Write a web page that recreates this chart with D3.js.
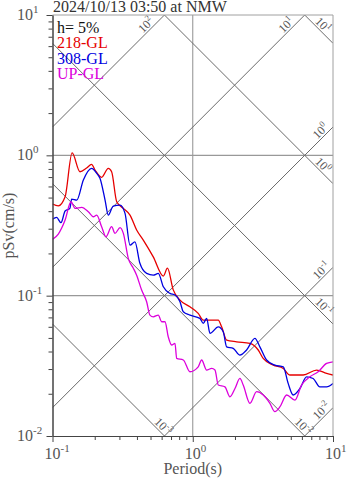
<!DOCTYPE html>
<html>
<head>
<meta charset="utf-8">
<script src="https://cdn.jsdelivr.net/npm/d3@7"></script>
<style>
	body { margin: 0; background: #fff; }
	svg { display: block; font-family: "Liberation Serif", "DejaVu Serif", serif; }
</style>
</head>
<body>
<script>
const title = "2024/10/13 03:50 at NMW";
const damping = "h= 5%";
const seriesNames = ["218-GL", "308-GL", "UP-GL"];
const seriesColors = ["#e60000", "#0000e0", "#dc00dc"];

// period (s) and pSv (cm/s) for each component
const period218 = [0.1, 0.11, 0.123, 0.138, 0.157, 0.175, 0.19, 0.201, 0.224, 0.25, 0.264, 0.287, 0.32, 0.357, 0.398, 0.444, 0.523, 0.617, 0.66, 0.726, 0.811, 0.955, 1.094, 1.188, 1.29, 1.52, 1.607, 1.744, 2.056, 2.557, 2.93, 3.18, 3.75, 4.42, 4.93, 6.13, 7.64, 9.0, 10];
const sv218 = [0.45, 0.437, 0.507, 1.04, 0.764, 0.812, 0.863, 0.786, 0.697, 0.808, 0.764, 0.467, 0.419, 0.375, 0.294, 0.249, 0.189, 0.138, 0.157, 0.11, 0.093, 0.0834, 0.0748, 0.067, 0.067, 0.067, 0.06, 0.0483, 0.0469, 0.0457, 0.041, 0.0357, 0.032, 0.0303, 0.0272, 0.0272, 0.0295, 0.0279, 0.0272];

const period308 = [0.1, 0.107, 0.115, 0.123, 0.133, 0.137, 0.149, 0.166, 0.19, 0.207, 0.218, 0.237, 0.25, 0.271, 0.303, 0.329, 0.357, 0.387, 0.42, 0.469, 0.523, 0.568, 0.617, 0.688, 0.747, 0.811, 0.856, 0.955, 1.125, 1.188, 1.256, 1.327, 1.52, 1.65, 1.744, 1.944, 2.17, 2.42, 2.775, 3.01, 3.36, 3.85, 4.42, 4.79, 5.2, 5.81, 6.48, 7.22, 8.06, 9.0, 10];
const sv308 = [0.35, 0.361, 0.331, 0.401, 0.419, 0.488, 0.48, 0.667, 0.808, 0.744, 0.686, 0.48, 0.375, 0.435, 0.442, 0.386, 0.229, 0.242, 0.17, 0.144, 0.14, 0.144, 0.1157, 0.1038, 0.101, 0.0905, 0.0768, 0.0727, 0.0689, 0.0635, 0.0689, 0.0539, 0.06, 0.0553, 0.0432, 0.0421, 0.0377, 0.041, 0.0496, 0.0432, 0.0348, 0.032, 0.0311, 0.0237, 0.0196, 0.0218, 0.0264, 0.0257, 0.0224, 0.0224, 0.0237];

const periodUP = [0.1, 0.11, 0.123, 0.1355, 0.1448, 0.1616, 0.18, 0.1954, 0.2066, 0.224, 0.2406, 0.264, 0.279, 0.303, 0.32, 0.347, 0.377, 0.398, 0.432, 0.469, 0.495, 0.523, 0.568, 0.6, 0.634, 0.669, 0.707, 0.747, 0.768, 0.856, 0.955, 1.094, 1.157, 1.256, 1.364, 1.44, 1.52, 1.696, 1.841, 2.0, 2.17, 2.29, 2.557, 2.854, 3.18, 3.55, 3.85, 4.18, 4.67, 5.35, 5.97, 6.84, 7.84, 9.0, 10];
const svUP = [0.252, 0.275, 0.346, 0.467, 0.419, 0.426, 0.396, 0.365, 0.375, 0.31, 0.263, 0.31, 0.278, 0.305, 0.278, 0.1845, 0.157, 0.14, 0.1096, 0.0905, 0.0727, 0.0707, 0.0727, 0.0652, 0.0652, 0.0509, 0.0445, 0.0457, 0.0357, 0.0348, 0.0287, 0.0311, 0.0348, 0.0295, 0.0303, 0.0295, 0.0231, 0.0224, 0.019, 0.0218, 0.0257, 0.0231, 0.0171, 0.0207, 0.0196, 0.0171, 0.0149, 0.0161, 0.0196, 0.018, 0.0231, 0.0264, 0.0287, 0.0329, 0.0338];

// tripartite guide lines: acceleration (cm/s2) and displacement (cm)
const accelValues = [0.01, 0.1, 1, 10, 100];
const accelLabels = ["-2", "-1", "0", "1", "2"];
const dispValues = [0.001, 0.01, 0.1, 1, 10];
const dispLabels = ["-3", "-2", "-1", "0", "1"];

const periodDecades = [0.1, 1, 10];
const periodDecadeLabels = ["-1", "0", "1"];
const svDecades = [0.01, 0.1, 1, 10];
const svDecadeLabels = ["-2", "-1", "0", "1"];

const width = 347;
const height = 478;
const pLeft = 52.5, pRight = 333, pTop = 15, pBottom = 436;

const svg = d3.select("body").append("svg")
	.attr("width", width)
	.attr("height", height);

const x = d3.scaleLog().domain([0.1, 10]).range([pLeft, pRight]);
const y = d3.scaleLog().domain([0.01, 10]).range([pBottom, pTop]);

svg.append("clipPath").attr("id", "plot")
	.append("rect")
	.attr("x", pLeft).attr("y", pTop)
	.attr("width", pRight - pLeft).attr("height", pBottom - pTop);

const minorOf = (decades) => {
	const out = [];
	decades.slice(0, -1).forEach((d) => {
		for (let k = 2; k <= 9; k++) out.push(d * k);
	});
	return out;
};

// grid at whole decades
const grid = svg.append("g").attr("stroke", "#999").attr("stroke-width", 1.1);
grid.selectAll("line.v")
	.data(periodDecades.slice(1, -1))
	.enter().append("line")
	.attr("x1", (d) => x(d)).attr("x2", (d) => x(d))
	.attr("y1", pTop).attr("y2", pBottom);
grid.selectAll("line.h")
	.data(svDecades.slice(1, -1))
	.enter().append("line")
	.attr("x1", pLeft).attr("x2", pRight)
	.attr("y1", (d) => y(d)).attr("y2", (d) => y(d));

// diagonal lines
const diag = svg.append("g").attr("clip-path", "url(#plot)")
	.attr("stroke", "#6a6a6a").attr("stroke-width", 1).attr("fill", "none");
const accelSv = (a, t) => (a * t) / (2 * Math.PI);
const dispSv = (s, t) => (2 * Math.PI * s) / t;

diag.selectAll("line.acc")
	.data(accelValues)
	.enter().append("line")
	.attr("x1", x(0.1)).attr("y1", (d) => y(accelSv(d, 0.1)))
	.attr("x2", x(10)).attr("y2", (d) => y(accelSv(d, 10)));
diag.selectAll("line.disp")
	.data(dispValues)
	.enter().append("line")
	.attr("x1", x(0.1)).attr("y1", (d) => y(dispSv(d, 0.1)))
	.attr("x2", x(10)).attr("y2", (d) => y(dispSv(d, 10)));

// diagonal labels
const addExp = (sel, exp, sup, shift) => {
	sel.append("tspan").text("10");
	sel.append("tspan").attr("font-size", sup).attr("dy", -shift).text(exp);
};

const diagLabels = svg.append("g").attr("fill", "#555").attr("font-size", 12);
accelValues.forEach((a, i) => {
	const tTop = (10 * 2 * Math.PI) / a;
	const atTop = tTop < 10;
	const tExit = atTop ? tTop : 10;
	const px = x(tExit), py = y(accelSv(a, tExit));
	const back = atTop ? 20 : 14;
	const sx = px - back - 1.4, sy = py + back - 1.4;
	const t = diagLabels.append("text")
		.attr("transform", `translate(${sx},${sy}) rotate(-45)`);
	addExp(t, accelLabels[i], 8.5, 5);
});
dispValues.forEach((s, i) => {
	const tBottom = (2 * Math.PI * s) / 0.01;
	const atBottom = tBottom < 10;
	const tExit = atBottom ? tBottom : 10;
	const px = x(tExit), py = y(dispSv(s, tExit));
	const back = atBottom ? 12 : 20;
	const sx = px - back + 1.4, sy = py - back - 1.4;
	const t = diagLabels.append("text")
		.attr("transform", `translate(${sx},${sy}) rotate(45)`);
	addExp(t, dispLabels[i], 8.5, 5);
});

// response curves
const line = d3.line()
	.x((d) => x(d[0]))
	.y((d) => y(d[1]))
	.curve(d3.curveMonotoneX);

const series = [
	d3.zip(period218, sv218),
	d3.zip(period308, sv308),
	d3.zip(periodUP, svUP),
];

svg.append("g").attr("clip-path", "url(#plot)")
	.selectAll("path")
	.data(series)
	.enter().append("path")
	.attr("d", line)
	.attr("fill", "none")
	.attr("stroke", (d, i) => seriesColors[i])
	.attr("stroke-width", 1.3);

// frame
svg.append("path")
	.attr("d", `M${pLeft},${pTop}H${pRight}V${pBottom}`)
	.attr("fill", "none").attr("stroke", "#a0a0a0").attr("stroke-width", 1);

// axes
const axisColor = "#444";
const styleAxis = (g) => {
	g.selectAll("path, line").attr("stroke", axisColor);
	g.selectAll("text").remove();
};
svg.append("g").attr("transform", `translate(0,${pBottom})`)
	.call(d3.axisBottom(x).tickValues(minorOf(periodDecades)).tickSize(4).tickSizeOuter(0).tickFormat(""))
	.call(styleAxis);
svg.append("g").attr("transform", `translate(0,${pBottom})`)
	.call(d3.axisBottom(x).tickValues(periodDecades).tickSize(6).tickSizeOuter(0).tickFormat(""))
	.call(styleAxis);
svg.append("g").attr("transform", `translate(${pLeft},0)`)
	.call(d3.axisLeft(y).tickValues(minorOf(svDecades)).tickSize(4).tickSizeOuter(0).tickFormat(""))
	.call(styleAxis);
svg.append("g").attr("transform", `translate(${pLeft},0)`)
	.call(d3.axisLeft(y).tickValues(svDecades).tickSize(6).tickSizeOuter(0).tickFormat(""))
	.call(styleAxis);

// tick labels
const tickText = svg.append("g").attr("fill", "#555").attr("font-size", 16);
svDecades.forEach((d, i) => {
	const t = tickText.append("text").attr("x", 17).attr("y", y(d) + 5);
	addExp(t, svDecadeLabels[i], 11, 7);
});
periodDecades.forEach((d, i) => {
	const t = tickText.append("text").attr("x", x(d) - 8).attr("y", 459);
	addExp(t, periodDecadeLabels[i], 11, 7);
});

// axis titles
svg.append("text")
	.attr("x", (pLeft + pRight) / 2).attr("y", 474)
	.attr("text-anchor", "middle")
	.attr("font-size", 16).attr("fill", "#555")
	.text("Period(s)");
svg.append("text")
	.attr("transform", `translate(14,${(pTop + pBottom) / 2}) rotate(-90)`)
	.attr("text-anchor", "middle")
	.attr("font-size", 16).attr("fill", "#555")
	.text("pSv(cm/s)");

// title
svg.append("text")
	.attr("x", 53).attr("y", 11.5)
	.attr("font-size", 16).attr("fill", "#333")
	.text(title);

// legend
const legend = svg.append("g").attr("font-size", 16);
legend.append("text").attr("x", 57).attr("y", 33).attr("fill", "#111").text(damping);
legend.selectAll("text.s")
	.data(seriesNames)
	.enter().append("text")
	.attr("x", 57)
	.attr("y", (d, i) => 48 + i * 15.5)
	.attr("fill", (d, i) => seriesColors[i])
	.text((d) => d);
</script>
</body>
</html>
